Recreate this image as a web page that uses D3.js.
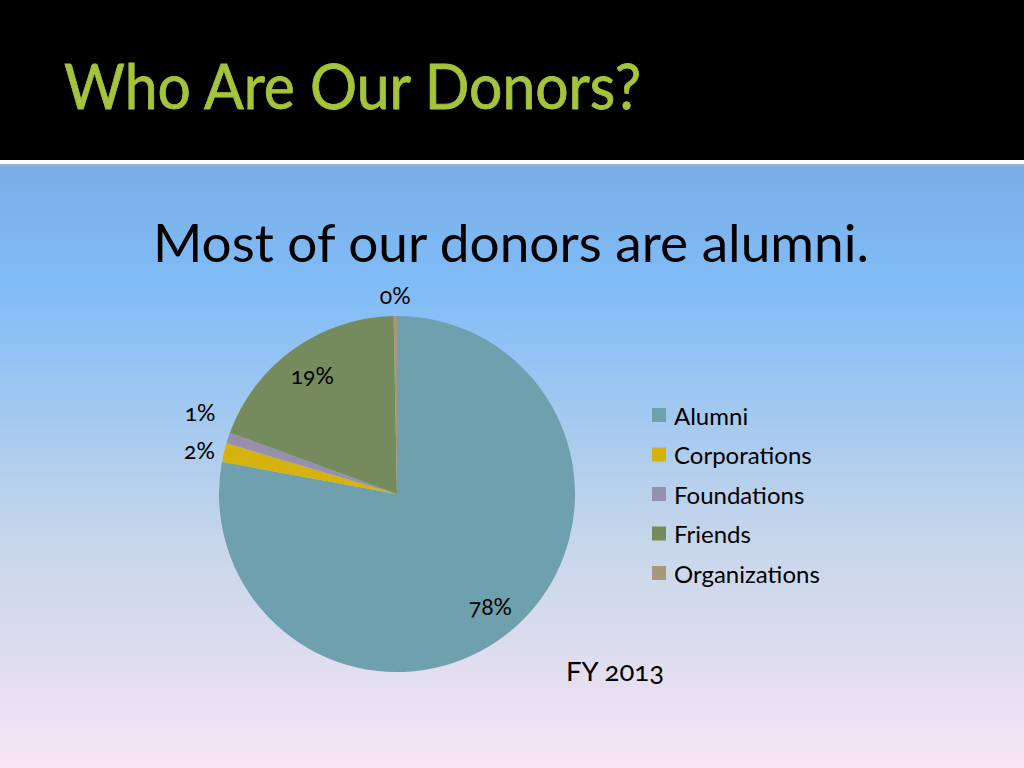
<!DOCTYPE html>
<html>
<head>
<meta charset="utf-8">
<script src="https://cdn.jsdelivr.net/npm/d3@7"></script>
<style>
  body { margin: 0; padding: 0; overflow: hidden; }
  svg { display: block; }
</style>
</head>
<body>
<div id="figure"></div>
<script>

// data
var categories = ["Alumni", "Corporations", "Foundations", "Friends", "Organizations"];
var shares = [77.9, 1.7, 1.0, 19.1, 0.3];
var shareLabels = ["78%", "2%", "1%", "19%", "0%"];
var colors = ["#6ea0ae", "#d6b20f", "#9690ae", "#768b5d", "#a8987a"];

var w = 1024, h = 768;
var font = "Lato, 'Open Sans', sans-serif";

var svg = d3.select("#figure").append("svg")
	.attr("width", w)
	.attr("height", h);

// background
var defs = svg.append("defs");
var grad = defs.append("linearGradient")
	.attr("id", "bg")
	.attr("x1", 0).attr("y1", 0)
	.attr("x2", 0).attr("y2", 1);
grad.selectAll("stop")
	.data([[0, "#7aaee4"], [0.2, "#80bcf8"], [0.42, "#a4c9ef"], [0.62, "#c6d6ea"], [0.8, "#dcdcee"], [1, "#f8e6f6"]])
	.enter()
	.append("stop")
	.attr("offset", function(d) { return d[0]; })
	.attr("stop-color", function(d) { return d[1]; });

svg.append("rect")
	.attr("x", 0).attr("y", 166)
	.attr("width", w).attr("height", h - 166)
	.attr("fill", "url(#bg)");

// header band
svg.append("rect")
	.attr("x", 0).attr("y", 0)
	.attr("width", w).attr("height", 160)
	.attr("fill", "#000");
svg.append("rect")
	.attr("x", 0).attr("y", 160)
	.attr("width", w).attr("height", 4)
	.attr("fill", "#fff");
svg.append("rect")
	.attr("x", 0).attr("y", 164)
	.attr("width", w).attr("height", 2)
	.attr("fill", "#9db0c8");

svg.append("text")
	.text("Who Are Our Donors?")
	.attr("x", 64)
	.attr("y", 109)
	.attr("textLength", 577)
	.attr("lengthAdjust", "spacingAndGlyphs")
	.attr("font-family", font)
	.attr("font-weight", "normal")
	.attr("font-size", "62px")
	.attr("fill", "#a4c43a")
	.attr("stroke", "#a4c43a")
	.attr("stroke-width", 0.8);

svg.append("text")
	.text("Most of our donors are alumni.")
	.attr("x", 153)
	.attr("y", 262)
	.attr("textLength", 716)
	.attr("lengthAdjust", "spacingAndGlyphs")
	.attr("font-family", font)
	.attr("font-size", "52px")
	.attr("fill", "#000");

// pie
var cx = 397, cy = 494, r = 178;

var pie = d3.pie()
	.sort(null)
	.value(function(d) { return d; });

var arc = d3.arc()
	.innerRadius(0)
	.outerRadius(r);

var arcs = pie(shares);

var g = svg.append("g")
	.attr("transform", "translate(" + cx + "," + cy + ")");

g.selectAll("path.slice")
	.data(arcs)
	.enter()
	.append("path")
	.attr("class", "slice")
	.attr("d", arc)
	.attr("fill", function(d, i) { return colors[i]; });

// label positions: big slices inside, small ones outside
var inner = d3.arc().innerRadius(r * 0.82).outerRadius(r * 0.82);
var outer = d3.arc().innerRadius(r + 20).outerRadius(r + 20);

var labelPos = function(d, i) {
	if (shares[i] > 5) return inner.centroid(d);
	var p = outer.centroid(d);
	if (i == 1) return [p[0] - 5, p[1] + 2];
	if (i == 2) return [p[0] - 9, p[1] - 20];
	return [p[0], p[1] - 1];
};

g.selectAll("text.pct")
	.data(arcs)
	.enter()
	.append("text")
	.attr("class", "pct")
	.attr("x", function(d, i) { return labelPos(d, i)[0]; })
	.attr("y", function(d, i) { return labelPos(d, i)[1]; })
	.attr("text-anchor", "middle")
	.attr("dominant-baseline", "central")
	.attr("font-family", font)
	.attr("font-size", "23px")
	.style("font-variant-numeric", "oldstyle-nums")
	.attr("fill", "#000")
	.text(function(d, i) { return shareLabels[i]; });

// legend
var leg = svg.append("g")
	.attr("transform", "translate(652,415)");

var legItem = leg.selectAll("g.legitem")
	.data(categories)
	.enter()
	.append("g")
	.attr("class", "legitem")
	.attr("transform", function(d, i) { return "translate(0," + (i * 39.5) + ")"; });

legItem.append("rect")
	.attr("x", 0)
	.attr("y", -7)
	.attr("width", 14)
	.attr("height", 14)
	.attr("fill", function(d, i) { return colors[i]; });

legItem.append("text")
	.attr("x", 22)
	.attr("y", 0)
	.attr("dominant-baseline", "central")
	.attr("font-family", font)
	.attr("font-size", "24px")
	.attr("fill", "#000")
	.text(function(d) { return d; });

svg.append("text")
	.text("FY 2013")
	.attr("x", 615)
	.attr("y", 670)
	.attr("text-anchor", "middle")
	.attr("dominant-baseline", "central")
	.attr("font-family", font)
	.attr("font-size", "27.5px")
	.style("font-variant-numeric", "oldstyle-nums")
	.attr("fill", "#000");

</script>
</body>
</html>
